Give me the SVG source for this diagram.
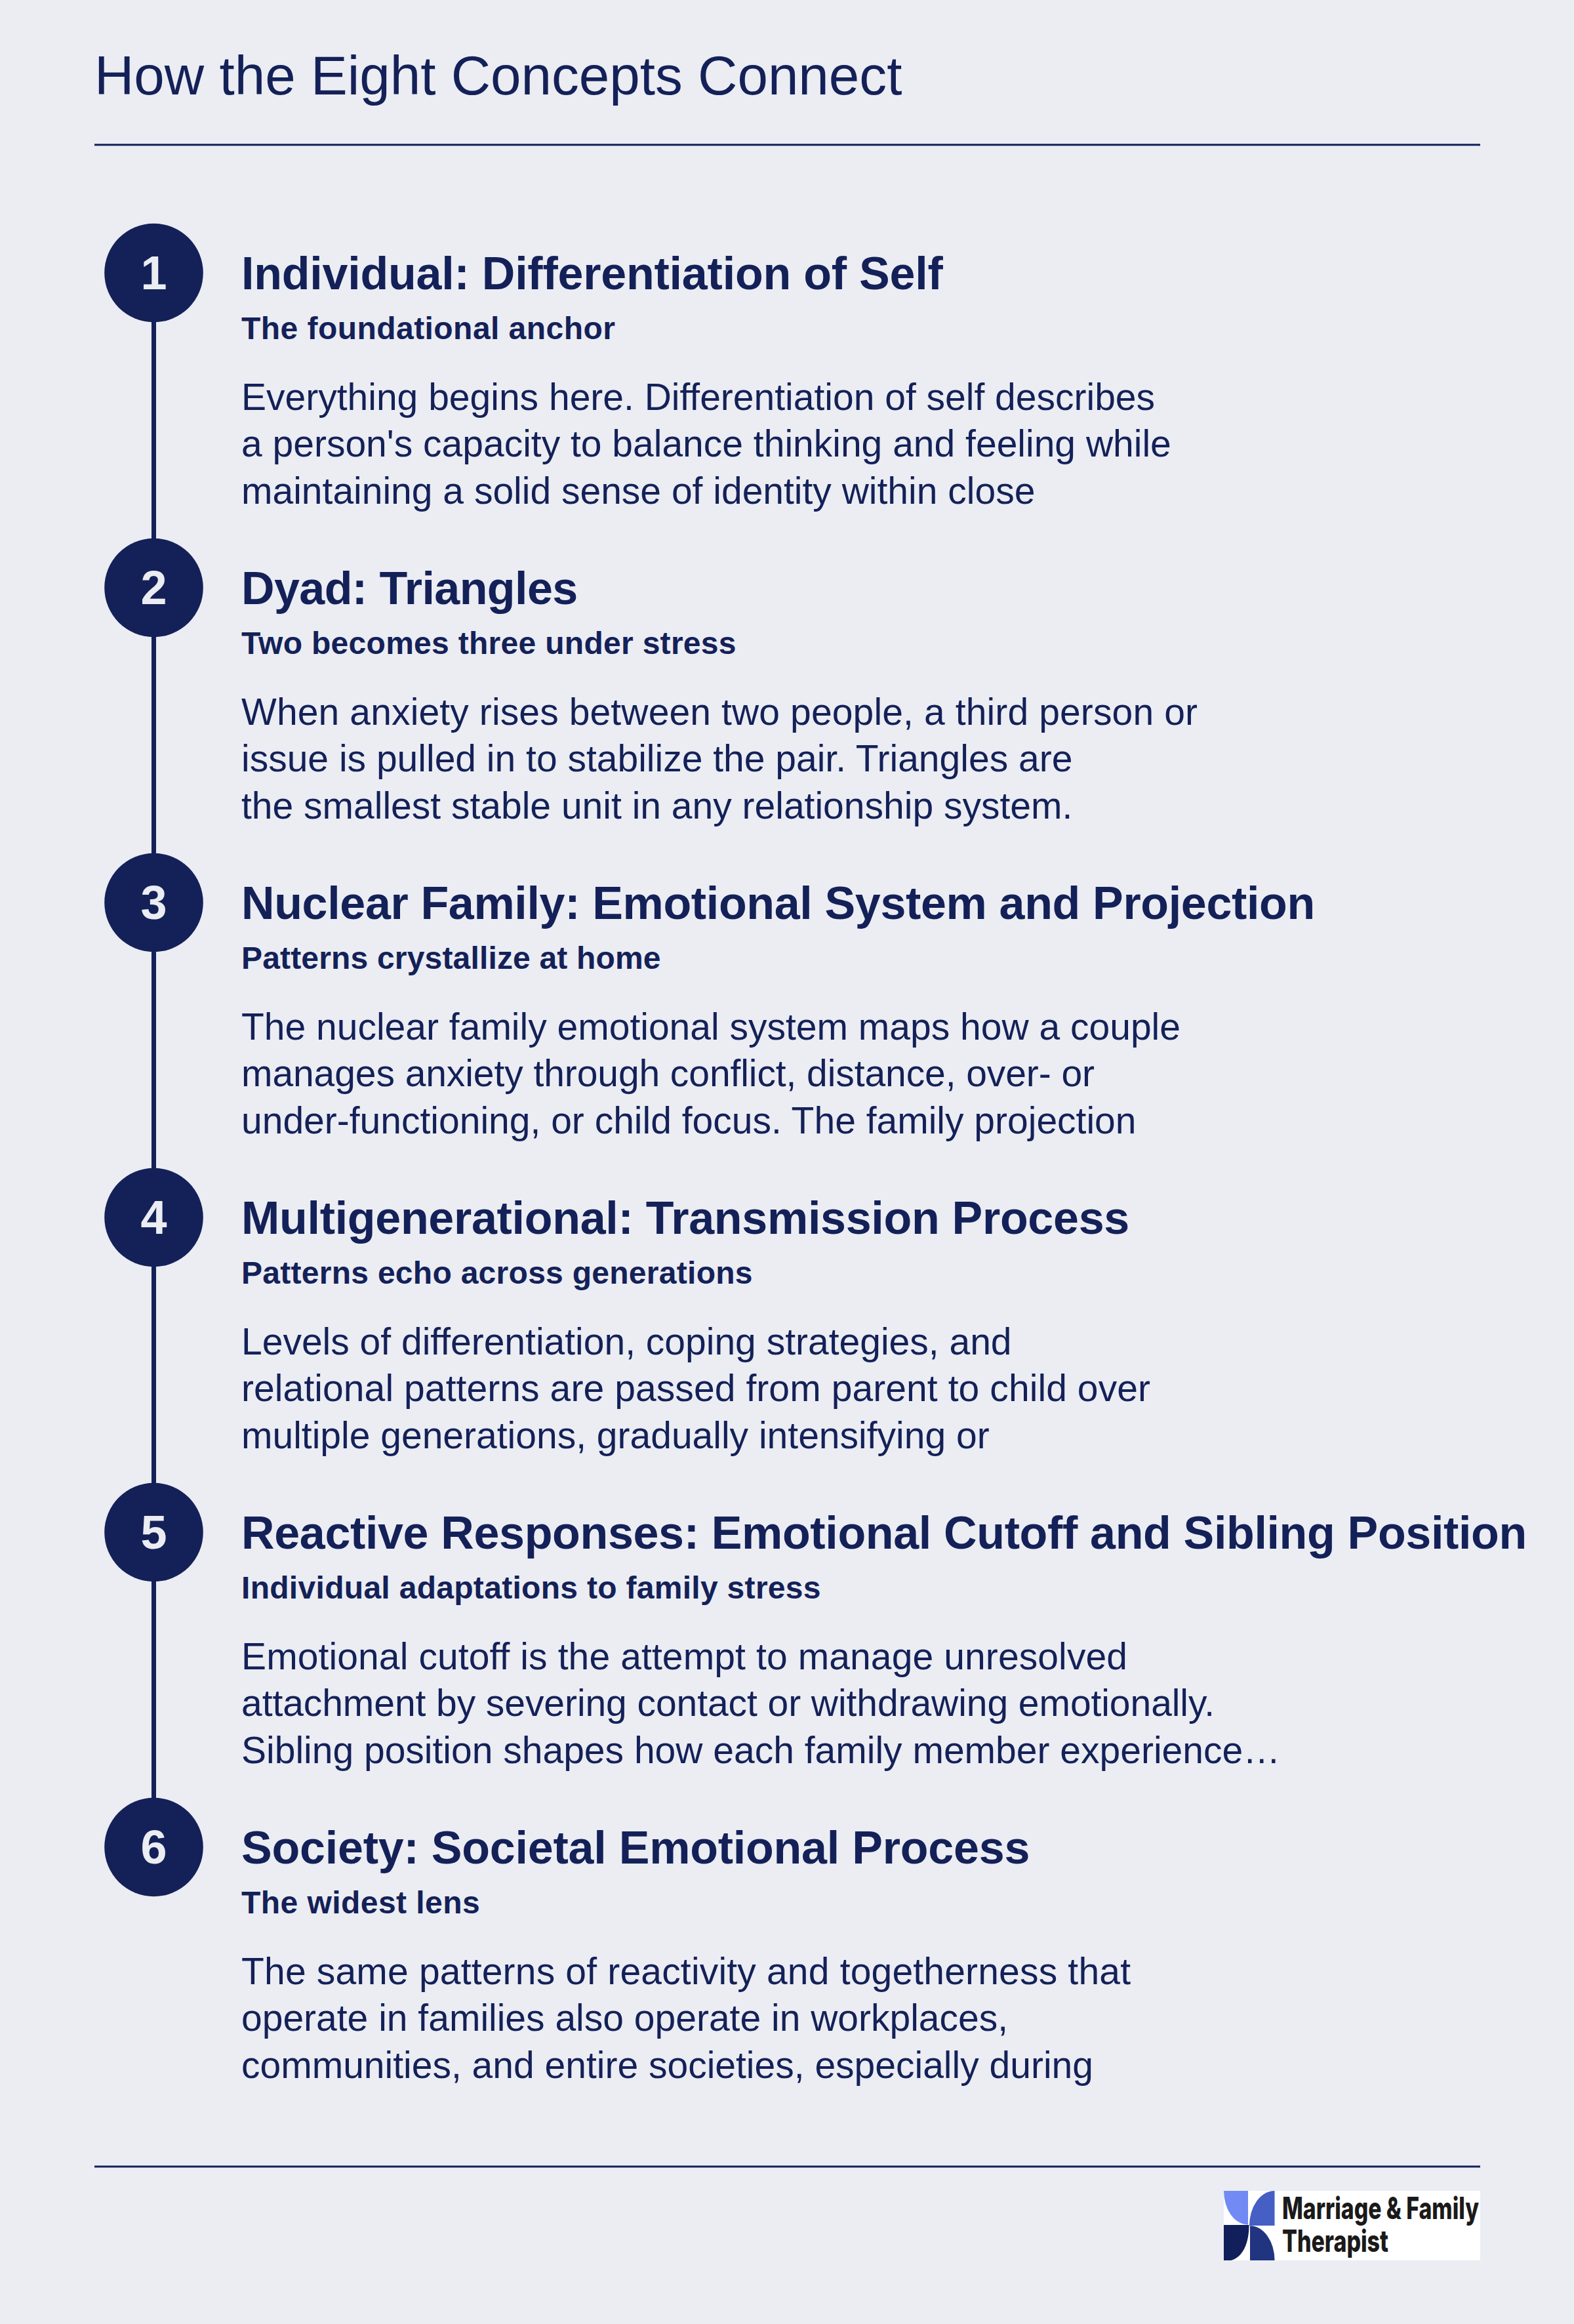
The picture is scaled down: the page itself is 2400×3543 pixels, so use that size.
<svg xmlns="http://www.w3.org/2000/svg" width="2400" height="3543" viewBox="0 0 2400 3543">
<style>
text{font-family:"Liberation Sans",Arial,sans-serif;fill:#142158}
.t{font-size:83.600px}
.h{font-size:70px;font-weight:700;letter-spacing:-.22px}
.s{font-size:48px;font-weight:700;letter-spacing:.45px}
.b{font-size:57px}
.n{font-size:72px;font-weight:700;fill:#ebedf3;text-anchor:middle}
.c{fill:#142158}
.r{stroke:#142158;stroke-width:3;fill:none}
.l{stroke:#142158;stroke-width:7;fill:none}
.m{font-family:Inter,"Liberation Sans",sans-serif;font-weight:800;font-size:46px;fill:#1a1a1a}
</style>
<rect width="2400" height="3543" fill="#ebedf3"/>
<text class="t" x="144" y="144">How the Eight Concepts Connect</text>
<line class="r" x1="144" y1="220.800" x2="2257" y2="220.800"/>
<g id="connectors">
<line class="l" x1="234.500" y1="491" x2="234.500" y2="821"/>
<line class="l" x1="234.500" y1="971" x2="234.500" y2="1301"/>
<line class="l" x1="234.500" y1="1451" x2="234.500" y2="1781"/>
<line class="l" x1="234.500" y1="1931" x2="234.500" y2="2261"/>
<line class="l" x1="234.500" y1="2411" x2="234.500" y2="2741"/>
</g>
<g id="node-1"><circle class="c" cx="234.500" cy="416" r="75.300"/><text class="n" x="234.500" y="441">1</text>
<text class="h" x="368" y="441">Individual: Differentiation of Self</text>
<text class="s" x="368" y="517">The foundational anchor</text>
<text class="b" x="368" y="624.500">Everything begins here. Differentiation of self describes</text>
<text class="b" x="368" y="696">a person's capacity to balance thinking and feeling while</text>
<text class="b" x="368" y="767.500">maintaining a solid sense of identity within close</text></g>
<g id="node-2"><circle class="c" cx="234.500" cy="896" r="75.300"/><text class="n" x="234.500" y="921">2</text>
<text class="h" x="368" y="921" textLength="513">Dyad: Triangles</text>
<text class="s" x="368" y="997" textLength="755">Two becomes three under stress</text>
<text class="b" x="368" y="1104.500" textLength="1458">When anxiety rises between two people, a third person or</text>
<text class="b" x="368" y="1176">issue is pulled in to stabilize the pair. Triangles are</text>
<text class="b" x="368" y="1247.500">the smallest stable unit in any relationship system.</text></g>
<g id="node-3"><circle class="c" cx="234.500" cy="1376" r="75.300"/><text class="n" x="234.500" y="1401">3</text>
<text class="h" x="368" y="1401" textLength="1637">Nuclear Family: Emotional System and Projection</text>
<text class="s" x="368" y="1477" textLength="640">Patterns crystallize at home</text>
<text class="b" x="368" y="1584.500">The nuclear family emotional system maps how a couple</text>
<text class="b" x="368" y="1656" textLength="1301">manages anxiety through conflict, distance, over- or</text>
<text class="b" x="368" y="1727.500">under-functioning, or child focus. The family projection</text></g>
<g id="node-4"><circle class="c" cx="234.500" cy="1856" r="75.300"/><text class="n" x="234.500" y="1881">4</text>
<text class="h" x="368" y="1881" textLength="1354">Multigenerational: Transmission Process</text>
<text class="s" x="368" y="1957" textLength="780">Patterns echo across generations</text>
<text class="b" x="368" y="2064.500">Levels of differentiation, coping strategies, and</text>
<text class="b" x="368" y="2136" textLength="1386">relational patterns are passed from parent to child over</text>
<text class="b" x="368" y="2207.500">multiple generations, gradually intensifying or</text></g>
<g id="node-5"><circle class="c" cx="234.500" cy="2336" r="75.300"/><text class="n" x="234.500" y="2361">5</text>
<text class="h" x="368" y="2361" textLength="1960">Reactive Responses: Emotional Cutoff and Sibling Position</text>
<text class="s" x="368" y="2437" textLength="884">Individual adaptations to family stress</text>
<text class="b" x="368" y="2544.500" textLength="1351">Emotional cutoff is the attempt to manage unresolved</text>
<text class="b" x="368" y="2616" textLength="1484">attachment by severing contact or withdrawing emotionally.</text>
<text class="b" x="368" y="2687.500">Sibling position shapes how each family member experience…</text></g>
<g id="node-6"><circle class="c" cx="234.500" cy="2816" r="75.300"/><text class="n" x="234.500" y="2841">6</text>
<text class="h" x="368" y="2841">Society: Societal Emotional Process</text>
<text class="s" x="368" y="2917">The widest lens</text>
<text class="b" x="368" y="3024.500" textLength="1356">The same patterns of reactivity and togetherness that</text>
<text class="b" x="368" y="3096">operate in families also operate in workplaces,</text>
<text class="b" x="368" y="3167.500">communities, and entire societies, especially during</text></g>
<line class="r" x1="144" y1="3303" x2="2257" y2="3303"/>
<g id="logo">
<rect x="1866" y="3340" width="391" height="106" fill="#fff"/>
<path d="M1866 3340H1903V3391.500A37 51.500 0 0 1 1866 3340Z" fill="#728af3"/>
<path d="M1943.500 3340A38.500 53 0 0 0 1905 3393H1943.500Z" fill="#465fc4"/>
<path d="M1866 3392H1904.500C1904.500 3420 1895 3441 1877 3446H1866Z" fill="#111f5b"/>
<path d="M1906 3393.300A37.500 52.700 0 0 1 1943.500 3446H1906Z" fill="#213480"/>
<text class="m" x="1955" y="3383" textLength="300" lengthAdjust="spacingAndGlyphs">Marriage &amp; Family</text>
<text class="m" x="1955" y="3433" textLength="162" lengthAdjust="spacingAndGlyphs">Therapist</text>
</g>
</svg>
